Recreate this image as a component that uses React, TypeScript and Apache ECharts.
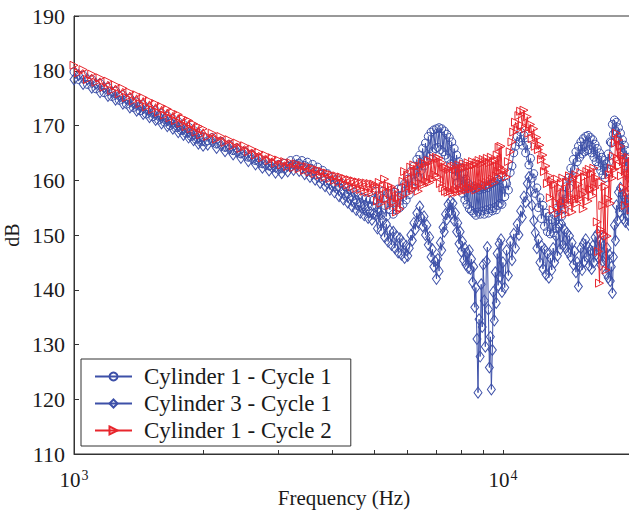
import React, { useEffect, useRef } from "react";
import * as echarts from "echarts";

// Frequency grid (Hz)
const frequencies = [
  1000, 1025, 1050, 1075, 1100, 1125, 1150, 1175, 1200, 1225,
  1250, 1275, 1300, 1325, 1350, 1375, 1400, 1425, 1450, 1475,
  1500, 1525, 1550, 1575, 1600, 1625, 1650, 1675, 1700, 1725,
  1750, 1775, 1800, 1825, 1850, 1875, 1900, 1925, 1950, 1975,
  2000,
  2050, 2100, 2150, 2200, 2250, 2300, 2350, 2400, 2450, 2500,
  2550, 2600, 2650, 2700, 2750, 2800, 2850, 2900, 2950, 3000,
  3050, 3100, 3150, 3200, 3250, 3300, 3350, 3400, 3450, 3500,
  3550, 3600, 3650, 3700, 3750, 3800, 3850, 3900, 3950, 4000,
  4050, 4100, 4150, 4200, 4250, 4300, 4350, 4400, 4450, 4500,
  4550, 4600, 4650, 4700, 4750, 4800, 4850, 4900, 4950, 5000,
  5050, 5100, 5150, 5200, 5250, 5300, 5350, 5400, 5450, 5500,
  5550, 5600, 5650, 5700, 5750, 5800, 5850, 5900, 5950, 6000,
  6050, 6100, 6150, 6200, 6250, 6300, 6350, 6400, 6450, 6500,
  6550, 6600, 6650, 6700, 6750, 6800, 6850, 6900, 6950, 7000,
  7050, 7100, 7150, 7200, 7250, 7300, 7350, 7400, 7450, 7500,
  7550, 7600, 7650, 7700, 7750, 7800, 7850, 7900, 7950, 8000,
  8050, 8100, 8150, 8200, 8250, 8300, 8350, 8400, 8450, 8500,
  8550, 8600, 8650, 8700, 8750, 8800, 8850, 8900, 8950, 9000,
  9050, 9100, 9150, 9200, 9250, 9300, 9350, 9400, 9450, 9500,
  9550, 9600, 9650, 9700, 9750, 9800, 9850, 9900, 9950, 10000,
  10100, 10200, 10300, 10400, 10500, 10600, 10700, 10800, 10900, 11000,
  11100, 11200, 11300, 11400, 11500, 11600, 11700, 11800, 11900, 12000,
  12100, 12200, 12300, 12400, 12500, 12600, 12700, 12800, 12900, 13000,
  13100, 13200, 13300, 13400, 13500, 13600, 13700, 13800, 13900, 14000,
  14100, 14200, 14300, 14400, 14500, 14600, 14700, 14800, 14900, 15000,
  15100, 15200, 15300, 15400, 15500, 15600, 15700, 15800, 15900, 16000,
  16100, 16200, 16300, 16400, 16500, 16600, 16700, 16800, 16900, 17000,
  17100, 17200, 17300, 17400, 17500, 17600, 17700, 17800, 17900, 18000,
  18100, 18200, 18300, 18400, 18500, 18600, 18700, 18800, 18900, 19000,
  19100, 19200, 19300, 19400, 19500, 19600, 19700, 19800, 19900, 20000,
];

// Cylinder 1 - Cycle 1 (dB)
const cylinder1Cycle1 = [
  179.8, 178.4, 179.2, 177.5, 178.4, 176.7, 177.7, 176.0, 177.0, 175.3,
  176.3, 174.6, 175.6, 173.9, 175.0, 173.3, 174.3, 172.7, 173.8, 172.1,
  173.2, 171.6, 172.7, 171.0, 172.2, 170.6, 171.7, 170.0, 171.2, 169.6,
  170.7, 169.1, 170.2, 168.6, 169.7, 168.0, 169.1, 167.5, 168.6, 167.0,
  167.9,
  167.2, 167.8, 166.6, 167.1, 166.0, 166.5, 165.4, 165.9, 164.8, 165.3,
  164.2, 164.7, 163.6, 164.0, 163.0, 163.5, 162.6, 163.0, 162.3, 162.9,
  162.4, 163.1, 162.6, 163.6, 162.9, 163.8, 163.1, 163.6, 162.7, 163.3,
  162.2, 162.9, 161.7, 162.4, 161.1, 161.8, 160.5, 161.2, 159.9, 160.6,
  159.4, 160.1, 158.7, 159.5, 158.1, 158.8, 157.5, 158.3, 157.0, 157.8,
  156.4, 157.3, 155.9, 156.9, 155.5, 156.7, 155.2, 156.5, 155.3, 156.4,
  158.0, 154.2, 157.2, 153.6, 158.0, 155.4, 153.4, 157.6, 154.6, 157.4,
  153.8, 157.8, 154.6, 158.4, 155.0, 158.6, 155.6, 159.4, 156.4, 160.2,
  157.4, 161.6, 158.6, 162.6, 159.8, 163.8, 160.6, 164.6, 161.8, 165.8,
  162.6, 166.8, 163.6, 168.0, 164.4, 168.8, 165.2, 169.2, 165.8, 169.4,
  166.0, 169.6, 165.6, 169.4, 165.2, 169.0, 164.6, 168.4, 164.0, 167.8,
  163.0, 167.0, 162.0, 165.8, 160.8, 164.6, 159.6, 163.4, 158.6, 162.2,
  157.6, 161.2, 156.4, 160.2, 155.6, 159.4, 154.8, 159.0, 154.4, 158.6,
  154.0, 158.4, 153.6, 158.6, 154.2, 158.2, 153.8, 158.8, 154.4, 158.4,
  153.8, 159.0, 154.6, 158.6, 154.0, 159.2, 154.8, 159.4, 154.4, 159.6,
  155.0, 159.8, 154.6, 160.2, 155.4, 160.0, 155.8, 160.6, 155.6, 159.4,
  157.0, 159.4, 158.2, 161.4, 162.6, 165.0, 166.2, 168.0, 167.0, 168.8,
  166.4, 168.2, 165.0, 166.4, 162.8, 164.0, 160.4, 161.2, 157.6, 158.6,
  155.0, 156.8, 153.0, 155.4, 151.6, 154.0, 150.6, 153.4, 150.2, 152.8,
  150.4, 153.6, 151.2, 154.6, 152.0, 155.8, 153.4, 157.4, 154.8, 158.8,
  156.6, 160.4, 158.6, 162.2, 160.4, 163.8, 162.0, 165.2, 163.4, 166.2,
  164.2, 167.0, 164.8, 167.6, 165.2, 168.0, 165.4, 168.2, 165.6, 167.8,
  165.0, 167.4, 164.2, 166.6, 163.4, 165.8, 162.6, 165.0, 161.8, 164.2,
  161.0, 163.6, 160.4, 163.0, 161.6, 164.8, 163.4, 167.0, 166.8, 170.2,
  168.4, 171.0, 169.0, 170.6, 167.8, 169.6, 166.4, 168.6, 165.2, 167.4,
  163.8, 166.4, 162.6, 165.4, 161.4, 164.2, 160.4, 163.0, 159.4, 161.6,
];

// Cylinder 3 - Cycle 1 (dB)
const cylinder3Cycle1 = [
  178.4, 179.2, 177.6, 178.4, 176.9, 177.6, 176.1, 176.9, 175.4, 176.1,
  174.7, 175.4, 174.0, 174.8, 173.3, 174.1, 172.7, 173.5, 172.1, 172.9,
  171.5, 172.3, 171.0, 171.7, 170.4, 171.2, 169.9, 170.7, 169.4, 170.1,
  168.8, 169.6, 168.3, 169.1, 167.8, 168.5, 167.3, 168.0, 166.7, 167.5,
  166.3,
  166.5, 167.1, 165.9, 166.4, 165.3, 165.8, 164.7, 165.2, 164.1, 164.6,
  163.5, 164.0, 162.9, 163.3, 162.3, 162.8, 161.8, 162.3, 161.4, 162.0,
  161.3, 162.1, 161.6, 162.4, 161.9, 162.6, 161.7, 162.2, 161.1, 161.7,
  160.6, 161.2, 160.1, 160.6, 159.5, 160.1, 158.9, 159.5, 158.3, 159.0,
  157.8, 158.5, 157.1, 157.8, 156.5, 157.2, 155.9, 156.6, 155.2, 156.0,
  154.6, 155.5, 154.1, 155.0, 153.6, 154.6, 153.1, 154.2, 152.8, 153.9,
  153.6, 151.2, 154.2, 150.8, 152.6, 149.6, 152.0, 148.8, 150.8, 148.2,
  150.6, 147.6, 149.8, 146.8, 149.4, 146.4, 148.6, 145.8, 148.0, 146.2,
  147.6, 150.0, 149.0, 152.2, 151.0, 154.0, 152.4, 155.2, 153.2, 151.6,
  153.4, 150.0, 151.8, 148.2, 149.6, 146.0, 147.4, 144.2, 145.2, 142.0,
  145.6, 143.4, 148.6, 147.2, 151.4, 150.6, 153.8, 152.8, 155.6, 154.2,
  156.2, 154.0, 155.8, 152.6, 154.0, 150.6, 152.2, 148.4, 150.6, 147.0,
  148.8, 145.4, 147.6, 144.6, 146.8, 144.0, 147.2, 143.8, 145.6, 141.4,
  144.2, 136.8, 140.4, 131.0, 121.2, 134.6, 127.8, 141.0, 133.2, 144.6,
  138.0, 129.6, 145.2, 147.8, 136.4, 125.8, 131.4, 121.8, 129.0, 139.6,
  134.4, 143.2, 137.6, 146.6, 140.8, 148.4, 142.4, 149.2, 139.6, 145.0,
  140.4, 147.2, 142.6, 148.8, 145.4, 150.2, 147.6, 152.0, 150.0, 154.4,
  153.2, 157.0, 156.0, 159.4, 160.6, 158.0, 155.4, 152.6, 150.4, 147.6,
  149.2, 145.0, 148.0, 143.8, 147.4, 142.8, 146.6, 142.2, 145.8, 143.6,
  147.6, 145.0, 149.8, 146.2, 151.4, 147.4, 152.0, 148.2, 151.0, 147.6,
  150.4, 146.8, 149.8, 146.0, 148.6, 144.6, 147.0, 143.2, 145.0, 140.6,
  144.2, 147.6, 143.6, 148.4, 145.2, 149.2, 146.0, 147.8, 144.4, 147.2,
  143.8, 148.0, 145.0, 149.6, 146.4, 150.2, 145.8, 149.0, 144.6, 148.4,
  145.2, 149.8, 146.0, 143.0, 147.6, 142.2, 146.4, 141.6, 144.2, 139.4,
  146.0, 151.8, 149.0, 155.4, 152.6, 157.8, 154.2, 158.6, 155.2, 157.4,
  153.0, 156.8, 152.4, 157.6, 153.6, 156.4, 151.8, 155.8, 152.2, 154.6,
];

// Cylinder 1 - Cycle 2 (dB)
const cylinder1Cycle2 = [
  181.0, 179.6, 180.2, 178.4, 179.4, 177.9, 178.7, 177.0, 178.1, 176.4,
  177.4, 175.8, 176.8, 175.1, 176.1, 174.5, 175.6, 174.0, 175.1, 173.4,
  174.5, 172.9, 174.0, 172.4, 173.5, 171.9, 173.0, 171.4, 172.4, 170.9,
  172.0, 170.4, 171.3, 169.8, 170.9, 169.4, 170.3, 168.8, 169.8, 168.3,
  169.4,
  168.0, 168.6, 167.5, 168.0, 166.9, 167.4, 166.3, 166.8, 165.8, 166.3,
  165.2, 165.7, 164.6, 165.1, 164.1, 164.6, 163.6, 164.1, 163.1, 163.7,
  162.8, 163.4, 162.5, 163.2, 162.3, 163.0, 162.1, 162.7, 161.8, 162.5,
  161.5, 162.2, 161.2, 161.9, 160.9, 161.6, 160.6, 161.3, 160.3, 161.0,
  160.0, 160.8, 159.7, 160.6, 159.4, 160.3, 159.1, 160.1, 158.8, 159.9,
  158.5, 159.7, 158.3, 159.6, 158.0, 159.5, 157.8, 159.4, 157.7, 159.3,
  158.9, 156.2, 159.6, 155.8, 158.4, 160.2, 156.6, 159.0, 155.4, 158.8,
  156.0, 158.2, 154.2, 156.8, 154.8, 157.0, 159.8, 161.6, 158.6, 161.0,
  157.8, 162.4, 158.4, 162.8, 159.0, 161.6, 158.0, 162.6, 159.4, 163.2,
  159.2, 163.0, 159.8, 163.6, 159.6, 163.4, 160.2, 164.0, 161.0, 164.2,
  160.6, 164.0, 159.4, 163.2, 158.6, 162.4, 158.0, 162.2, 157.8, 162.0,
  158.0, 162.4, 157.6, 162.6, 158.2, 162.0, 157.8, 162.8, 158.4, 162.2,
  158.0, 163.0, 158.6, 162.4, 158.2, 163.2, 158.8, 162.6, 158.4, 163.4,
  158.8, 162.8, 158.2, 163.2, 159.0, 163.6, 158.6, 163.0, 159.4, 163.8,
  159.2, 163.4, 159.6, 164.0, 159.0, 163.2, 159.8, 164.2, 160.2, 163.4,
  159.6, 163.6, 160.8, 164.6, 161.6, 166.0, 162.4, 166.2, 161.8, 161.0,
  161.8, 160.6, 163.4, 165.2, 167.0, 168.8, 170.6, 169.2, 171.8, 172.6,
  170.0, 172.8, 169.4, 171.6, 168.6, 170.2, 167.6, 169.4, 166.2, 167.8,
  165.6, 166.4, 163.8, 164.6, 161.6, 162.6, 159.4, 160.8, 156.8, 159.8,
  154.6, 159.2, 156.0, 160.2, 154.0, 158.6, 155.4, 160.4, 156.2, 153.8,
  159.6, 155.6, 160.8, 157.0, 154.2, 160.4, 156.4, 161.0, 155.8, 159.2,
  156.6, 161.4, 157.4, 154.8, 160.6, 157.8, 161.6, 156.2, 162.0, 158.4,
  161.2, 157.2, 162.2, 158.6, 160.4, 152.4, 147.0, 141.2, 151.0, 159.6,
  155.4, 150.2, 158.8, 143.6, 149.8, 156.6, 161.0, 155.8, 162.2, 160.4,
  164.4, 162.0, 166.8, 168.6, 164.0, 167.4, 162.6, 166.2, 160.8, 164.4,
  158.6, 163.6, 155.4, 162.0, 157.8, 164.2, 156.2, 161.0, 154.6, 160.4,
];

const seriesNames = ["Cylinder 1 - Cycle 1", "Cylinder 3 - Cycle 1", "Cylinder 1 - Cycle 2"];
const xLabelValues = [1000, 10000];
const xTickValues = [2000, 3000, 4000, 5000, 6000, 7000, 8000, 9000, 10000, 20000];

const BLUE = "#3d50a8";
const RED = "#e8262d";
const FONT = "Liberation Serif";
const INK = "#1a1a1a";

export default function App() {
  const ref = useRef<HTMLDivElement>(null);

  useEffect(() => {
    if (!ref.current) return;
    const chart = echarts.init(ref.current, null, { renderer: "svg" });
    const pairs = (vals: number[]) => frequencies.map((f, i) => [f, vals[i]]);
    const mk = (name: string, vals: number[], color: string, symbol: string, size: any, z: number) => ({
      name,
      type: "line",
      data: pairs(vals),
      symbol,
      symbolSize: size,
      showAllSymbol: true,
      silent: true,
      z,
      lineStyle: { color, width: 1 },
      itemStyle: { color: "rgba(255,255,255,0)", borderColor: color, borderWidth: 1 },
      emphasis: { disabled: true },
    });

    chart.setOption({
      animation: false,
      backgroundColor: "#ffffff",
      textStyle: { fontFamily: FONT },
      grid: {
        left: 74,
        top: 16,
        width: 558,
        height: 438,
        show: true,
        containLabel: false,
        outerBoundsMode: "none",
        borderColor: "#333",
        borderWidth: 1,
        backgroundColor: "transparent",
      },
      legend: {
        orient: "vertical",
        left: 81,
        top: 359,
        backgroundColor: "#ffffff",
        borderColor: "#333",
        borderWidth: 1,
        padding: [6, 19, 4, 13],
        itemGap: 4,
        itemWidth: 37,
        itemHeight: 10,
        textStyle: { fontFamily: FONT, fontSize: 23, color: INK, lineHeight: 23, padding: [0, 0, 0, 7] },
        data: seriesNames,
      },
      xAxis: {
        type: "log",
        logBase: 10,
        min: 1000,
        max: 20000,
        name: "Frequency (Hz)",
        nameLocation: "middle",
        nameGap: 33,
        nameMoveOverlap: false,
        nameTextStyle: { fontFamily: FONT, fontSize: 21, color: INK, padding: [0, 18, 0, 0] },
        axisLine: { show: true, lineStyle: { color: "#333", width: 1 } },
        axisTick: { show: true, inside: true, length: 4, customValues: xTickValues, lineStyle: { color: "#333" } },
        minorTick: { show: false },
        splitLine: { show: false },
        axisLabel: {
          customValues: xLabelValues,
          margin: 14,
          formatter: (v: number) => `{b|10}{s|${Math.round(Math.log10(v))}}`,
          rich: {
            b: { fontFamily: FONT, fontSize: 21, color: INK },
            s: { fontFamily: FONT, fontSize: 14, color: INK, padding: [0, 0, 10, 1] },
          },
        },
      },
      yAxis: {
        type: "value",
        min: 110,
        max: 190,
        interval: 10,
        name: "dB",
        nameLocation: "middle",
        nameGap: 52,
        nameRotate: 90,
        nameMoveOverlap: false,
        nameTextStyle: { fontFamily: FONT, fontSize: 20, color: INK },
        axisLine: { show: true, lineStyle: { color: "#333", width: 1 } },
        axisTick: { show: true, inside: true, length: 5, lineStyle: { color: "#333" } },
        splitLine: { show: false },
        axisLabel: { fontFamily: FONT, fontSize: 22, color: INK, margin: 9 },
      },
      series: [
        mk(seriesNames[0], cylinder1Cycle1, BLUE, "circle", 8, 2),
        mk(seriesNames[1], cylinder3Cycle1, BLUE, "diamond", [8, 11], 3),
        mk(seriesNames[2], cylinder1Cycle2, RED, "path://M0,0L10,5L0,10Z", 8, 4),
      ],
    });

    return () => chart.dispose();
  }, []);

  return (
    <div
      ref={ref}
      style={{ position: "fixed", left: 0, top: 0, width: 629, height: 510, background: "#fff" }}
    />
  );
}
